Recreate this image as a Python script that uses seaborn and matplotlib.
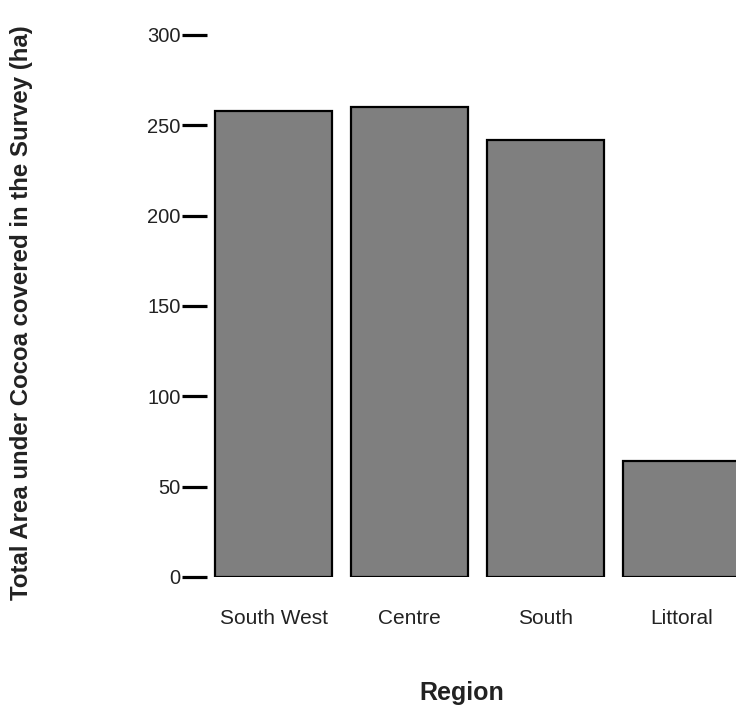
import matplotlib
matplotlib.use("Agg")
import matplotlib.pyplot as plt
import seaborn as sns

regions = ["South West", "Centre", "South", "Littoral"]
area_ha = [258, 260, 242, 64]
y_ticks = [0, 50, 100, 150, 200, 250, 300]

sns.set_theme(style="white")
plt.rcParams["font.family"] = ["Liberation Sans", "DejaVu Sans"]

fig = plt.figure(figsize=(7.36, 7.07), dpi=100)
ax = fig.add_axes([207 / 736, 1 - 577 / 707, 1 - 207 / 736, 542 / 707])

sns.barplot(x=regions, y=area_ha, color="#7f7f7f", saturation=1,
            edgecolor="black", linewidth=1.6, width=0.855, ax=ax)

ax.set_xlim(-0.49, 3.40)
ax.set_ylim(0, 300)
ax.set_yticks(y_ticks)
for s in ax.spines.values():
    s.set_visible(False)

ax.tick_params(axis="y", left=True, length=18, width=2.3, color="black",
               pad=1, labelsize=14.5, labelcolor="#222222")
ax.tick_params(axis="x", bottom=False, pad=17, labelsize=15,
               labelcolor="#222222")
for lbl in ax.get_yticklabels():
    lbl.set_clip_on(False)

ax.set_ylabel("Total Area under Cocoa covered in the Survey (ha)",
              fontsize=17.3, fontweight="bold", color="#222222")
ax.yaxis.set_label_coords(-0.329, 0.487)
ax.set_xlabel("Region", fontsize=18, fontweight="bold", color="#222222")
ax.xaxis.set_label_coords(0.482, -0.192)

fig.savefig("out.png", dpi=100)
